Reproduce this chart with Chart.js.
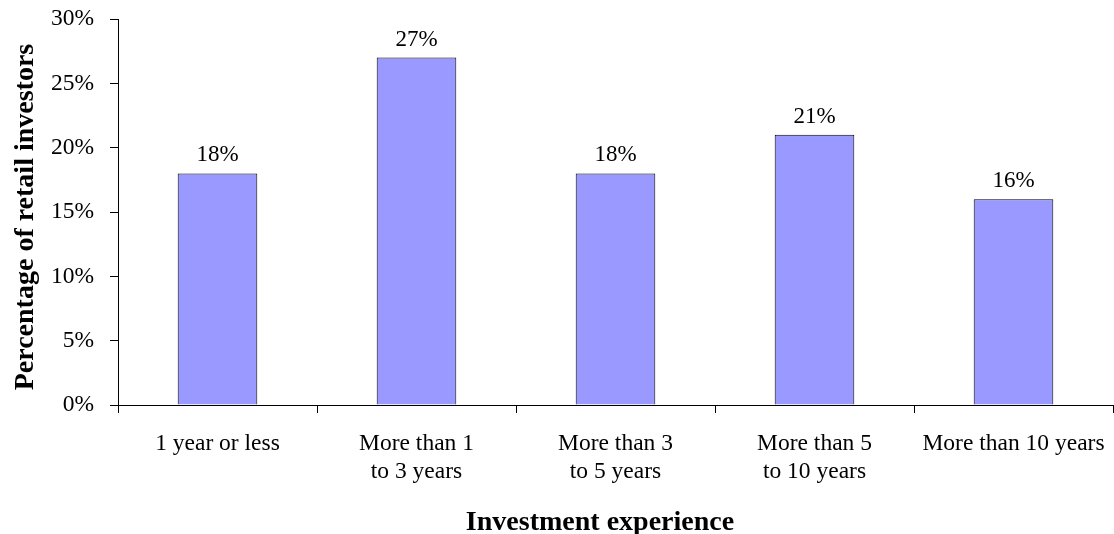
<!DOCTYPE html>
<html>
<head>
<meta charset="utf-8">
<script src="https://cdn.jsdelivr.net/npm/chart.js@4/dist/chart.umd.min.js"></script>
<style>
  html, body { margin: 0; padding: 0; background: #fff; }
  #wrap { width: 1114px; height: 534px; }
</style>
</head>
<body>
<div id="wrap"><canvas id="expChart" width="1114" height="534"></canvas></div>
<script>
var categorias = [["1 year or less"], ["More than 1", "to 3 years"], ["More than 3", "to 5 years"], ["More than 5", "to 10 years"], ["More than 10 years"]];
var porcentajes = [18, 27, 18, 21, 16];
var yTicks = [0, 5, 10, 15, 20, 25, 30];
var tituloX = "Investment experience";
var tituloY = "Percentage of retail investors";

var serif = "'Liberation Serif', 'Times New Roman', serif";
Chart.defaults.font.family = serif;
Chart.defaults.color = "#000";

// percentage labels above each bar + both axis titles
var etiquetas = {
    id: "etiquetas",
    afterDatasetsDraw: function (chart) {
        var ctx = chart.ctx;
        var meta = chart.getDatasetMeta(0);
        ctx.save();
        ctx.font = "23px " + serif;
        ctx.fillStyle = "#000";
        ctx.textAlign = "center";
        ctx.textBaseline = "alphabetic";
        meta.data.forEach(function (bar, i) {
            ctx.fillText(porcentajes[i] + "%", bar.x, bar.y - 12);
        });
        ctx.font = "bold 28px " + serif;
        ctx.fillText(tituloX, 600, 530);
        ctx.translate(26, 217);
        ctx.rotate(-Math.PI / 2);
        ctx.textBaseline = "middle";
        ctx.fillText(tituloY, 0, 0);
        ctx.restore();
    }
};

var ctx = document.getElementById("expChart").getContext("2d");
new Chart(ctx, {
    type: "bar",
    data: {
        labels: categorias,
        datasets: [{
            data: porcentajes,
            backgroundColor: "#9999FF",
            borderColor: "#000",
            borderWidth: 1,
            barPercentage: 0.4,
            categoryPercentage: 1
        }]
    },
    options: {
        responsive: false,
        animation: false,
        layout: { padding: { top: 19, right: 1, left: 0, bottom: 0 } },
        plugins: { legend: { display: false }, tooltip: { enabled: false } },
        scales: {
            x: {
                offset: true,
                grid: { offset: true, drawOnChartArea: false, color: "#000", tickLength: 8 },
                border: { color: "#000", width: 1 },
                ticks: { font: { size: 23.5 }, padding: 17, maxRotation: 0, autoSkip: false },
                afterFit: function (scale) {
                    scale.height = 129;
                    scale.paddingLeft = 0;
                    scale.paddingRight = 0;
                }
            },
            y: {
                min: 0,
                max: 30,
                afterBuildTicks: function (scale) {
                    scale.ticks = yTicks.map(function (v) { return { value: v }; });
                },
                grid: { drawOnChartArea: false, color: "#000", tickLength: 8 },
                border: { color: "#000", width: 1 },
                ticks: {
                    font: { size: 23.5 },
                    padding: 16,
                    callback: function (v) { return v + "%"; }
                },
                afterFit: function (scale) {
                    scale.width = 118;
                    scale.paddingTop = 0;
                    scale.paddingBottom = 0;
                }
            }
        }
    },
    plugins: [etiquetas]
});
</script>
</body>
</html>
